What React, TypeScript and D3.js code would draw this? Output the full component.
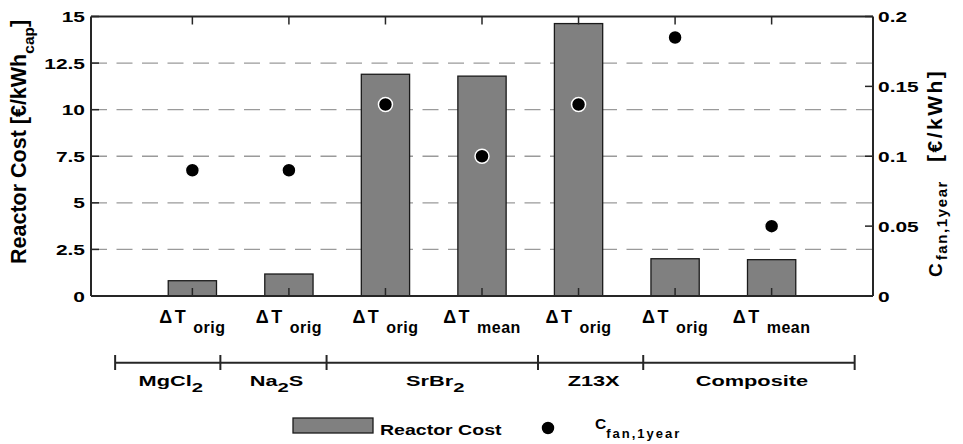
import React from "react";
import * as d3 from "d3";

// Reactor cost per storage material / temperature-difference case
const materials: Array<Array<[string, boolean]>> = [
  [["MgCl", false], ["2", true]],
  [["Na", false], ["2", true], ["S", false]],
  [["SrBr", false], ["2", true]],
  [["Z13X", false]],
  [["Composite", false]],
];
// boundaries of each material bracket along the category axis
const materialEdges = [0.2, 1.29, 2.39, 4.58, 5.67, 7.86];

const caseLabels = ["orig", "orig", "orig", "mean", "orig", "orig", "mean"];
const reactorCost = [0.82, 1.18, 11.9, 11.8, 14.62, 2.0, 1.95]; // €/kWh_cap
const fanCost = [0.09, 0.09, 0.137, 0.1, 0.137, 0.185, 0.05]; // €/kWh

const leftTicks = [0, 2.5, 5, 7.5, 10, 12.5, 15];
const leftTickLabels = ["0", "2.5", "5", "7.5", "10", "12.5", "15"];
const rightTicks = [0, 0.05, 0.1, 0.15, 0.2];
const rightTickLabels = ["0", "0.05", "0.1", "0.15", "0.2"];

const W = 963;
const H = 444;
const M = { left: 91, right: 873, top: 16.5, bottom: 296 };
const FONT = "'Liberation Sans', Arial, Helvetica, sans-serif";
const AXIS = "#262626";

export default function App() {
  const x = d3.scaleLinear().domain([-0.05, 8.05]).range([M.left, M.right]);
  const yL = d3.scaleLinear().domain([0, 15]).range([M.bottom, M.top]);
  const yR = d3.scaleLinear().domain([0, 0.2]).range([M.bottom, M.top]);
  const positions = reactorCost.map((_, i) => i + 1);
  const barW = x(1.25) - x(0.75);
  const tickLen = 8;

  return (
    <svg
      width={W}
      height={H}
      viewBox={`0 0 ${W} ${H}`}
      style={{ position: "absolute", left: 0, top: 0, background: "#fff" }}
      fontFamily={FONT}
      fontWeight="bold"
    >
      {/* dashed grid */}
      {leftTicks
        .filter((t) => t > 0 && t < 15)
        .map((t) => (
          <line
            key={"g" + t}
            x1={M.left}
            x2={M.right}
            y1={yL(t)}
            y2={yL(t)}
            stroke="#9a9a9a"
            strokeWidth={1.3}
            strokeDasharray="16 9.5"
          />
        ))}

      {/* bars */}
      {reactorCost.map((v, i) => (
        <rect
          key={"b" + i}
          x={x(positions[i]) - barW / 2}
          y={yL(v)}
          width={barW}
          height={yL(0) - yL(v)}
          fill="#808080"
          stroke="#1a1a1a"
          strokeWidth={1.3}
        />
      ))}

      {/* fan cost markers */}
      {fanCost.map((v, i) => (
        <circle
          key={"c" + i}
          cx={x(positions[i])}
          cy={yR(v)}
          r={7}
          fill="#000"
          stroke="#fff"
          strokeWidth={1.5}
        />
      ))}

      {/* axes box */}
      <line x1={M.left} x2={M.right} y1={M.top} y2={M.top} stroke={AXIS} strokeWidth={2} />
      <line x1={M.left} x2={M.right} y1={M.bottom} y2={M.bottom} stroke={AXIS} strokeWidth={2} />
      <line x1={M.left} x2={M.left} y1={M.top} y2={M.bottom} stroke={AXIS} strokeWidth={2} />
      <line x1={M.right} x2={M.right} y1={M.top} y2={M.bottom} stroke={AXIS} strokeWidth={2} />

      {/* category ticks, top and bottom */}
      {positions.map((p) => (
        <g key={"t" + p}>
          <line x1={x(p)} x2={x(p)} y1={M.bottom} y2={M.bottom - tickLen} stroke={AXIS} strokeWidth={1.5} />
          <line x1={x(p)} x2={x(p)} y1={M.top} y2={M.top + tickLen} stroke={AXIS} strokeWidth={1.5} />
        </g>
      ))}

      {/* left axis ticks + labels */}
      {leftTicks.map((t, i) => (
        <g key={"l" + t}>
          <line x1={M.left} x2={M.left + tickLen} y1={yL(t)} y2={yL(t)} stroke={AXIS} strokeWidth={1.5} />
          <g transform={`translate(85,${yL(t) + 5.6}) scale(1.35,1)`}>
            <text textAnchor="end" fontSize={15.5} fill="#000">
              {leftTickLabels[i]}
            </text>
          </g>
        </g>
      ))}

      {/* right axis ticks + labels */}
      {rightTicks.map((t, i) => (
        <g key={"r" + t}>
          <line x1={M.right} x2={M.right - tickLen} y1={yR(t)} y2={yR(t)} stroke={AXIS} strokeWidth={1.5} />
          <g transform={`translate(878,${yR(t) + 5.6}) scale(1.35,1)`}>
            <text textAnchor="start" fontSize={15.5} fill="#000">
              {rightTickLabels[i]}
            </text>
          </g>
        </g>
      ))}

      {/* case labels under each bar */}
      {positions.map((p, i) => (
        <text key={"x" + p} x={x(p)} y={323.3} textAnchor="middle" fill="#000">
          <tspan fontSize={18} letterSpacing={2.5}>ΔT</tspan>
          <tspan fontSize={16} dx={5} dy={10} letterSpacing={0.5}>
            {caseLabels[i]}
          </tspan>
        </text>
      ))}

      {/* material brackets */}
      <line
        x1={x(materialEdges[0])}
        x2={x(materialEdges[materialEdges.length - 1])}
        y1={362.7}
        y2={362.7}
        stroke={AXIS}
        strokeWidth={2}
      />
      {materialEdges.map((e) => (
        <line key={"e" + e} x1={x(e)} x2={x(e)} y1={355} y2={370} stroke={AXIS} strokeWidth={2} />
      ))}
      {materials.map((segs, i) => {
        const cx = (x(materialEdges[i]) + x(materialEdges[i + 1])) / 2 + 3;
        let prevSub = false;
        return (
          <g key={"m" + i} transform={`translate(${cx},386) scale(1.5,1)`}>
            <text textAnchor="middle" fill="#000">
              {segs.map(([t, sub], j) => {
                const dy = sub && !prevSub ? 6 : !sub && prevSub ? -6 : 0;
                prevSub = sub;
                return (
                  <tspan key={j} fontSize={sub ? 13.5 : 14.5} dy={dy}>
                    {t}
                  </tspan>
                );
              })}
            </text>
          </g>
        );
      })}

      {/* left axis title */}
      <text transform="translate(26,264) rotate(-90)" textAnchor="start" fill="#000" fontSize={21.5}>
        <tspan>Reactor Cost [€/kWh</tspan>
        <tspan fontSize={15.5} dy={8}>cap</tspan>
        <tspan dy={-8}>]</tspan>
      </text>

      {/* right axis title */}
      <text transform="translate(942,277) rotate(-90)" textAnchor="start" fill="#000" fontSize={19}>
        <tspan>C</tspan>
        <tspan fontSize={15} dx={3} dy={5} letterSpacing={1.6}>fan,1year</tspan>
        <tspan fontSize={21} dx={18} dy={-5} letterSpacing={2.5}>[€/kWh]</tspan>
      </text>

      {/* legend */}
      <rect x={293} y={418} width={80} height={15} fill="#808080" stroke="#1a1a1a" strokeWidth={1.3} />
      <g transform="translate(380,435) scale(1.26,1)">
        <text fontSize={15.5} fill="#000">Reactor Cost</text>
      </g>
      <circle cx={548} cy={428} r={7} fill="#000" stroke="#fff" strokeWidth={1.5} />
      <text x={595} y={429} fill="#000" fontSize={15.5}>
        <tspan>C</tspan>
        <tspan fontSize={13} dy={9} letterSpacing={2}>fan,1year</tspan>
      </text>
    </svg>
  );
}
